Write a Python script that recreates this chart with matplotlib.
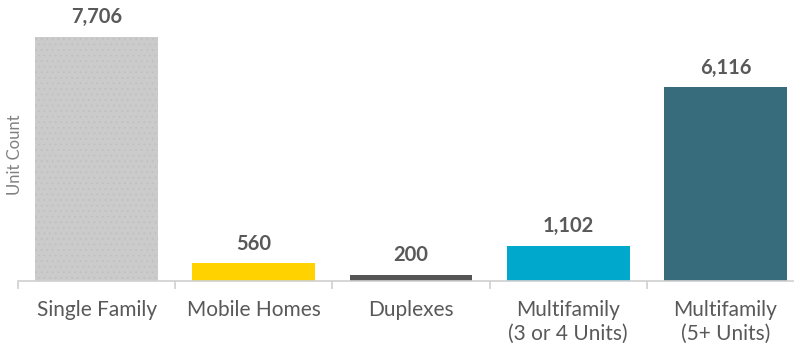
import numpy as np
import matplotlib.pyplot as plt

categories = ["Single Family", "Mobile Homes", "Duplexes",
              "Multifamily\n(3 or 4 Units)", "Multifamily\n(5+ Units)"]
unit_counts = [7706, 560, 200, 1102, 6116]
colors = ["#cbcbcb", "#ffd200", "#555555", "#00a9cc", "#366c7b"]

plt.rcParams['font.family'] = ['Lato', 'DejaVu Sans']
plt.rcParams['hatch.linewidth'] = 0.6

fig = plt.figure(figsize=(7.94, 3.43), dpi=100)
# axes runs slightly past the right edge, like the original layout
ax = fig.add_axes([18 / 794, 62 / 343, 786 / 794, 281 / 343])

x = np.arange(len(categories))
bars = ax.bar(x, unit_counts, width=0.78, color=colors, zorder=2)
# light dotted texture on the first bar
bars[0].set_hatch('...')
bars[0].set_edgecolor('#c0c0c0')
bars[0].set_linewidth(0)

for xi, v in zip(x, unit_counts):
    ax.annotate(f"{v:,}", (xi, v), xytext=(0, 7), textcoords='offset points',
                ha='center', va='bottom', fontsize=14.5, fontweight='bold',
                color='#595959')

ax.set_xlim(-0.5, len(categories) - 0.5)
ax.set_ylim(0, 8875)

ax.set_xticks(x)
ax.set_xticklabels(categories, fontsize=15, color='#595959', linespacing=1.2)
ax.tick_params(axis='x', length=0, pad=14)
ax.set_xticks(np.arange(len(categories) + 1) - 0.5, minor=True)
ax.tick_params(axis='x', which='minor', length=6, color='#d0d0d0', width=1.2)
ax.set_yticks([])

for side in ['top', 'right', 'left']:
    ax.spines[side].set_visible(False)
ax.spines['bottom'].set_color('#d0d0d0')
ax.spines['bottom'].set_linewidth(1.2)

fig.text(15 / 794, 1 - 155 / 343, "Unit Count", rotation=90, ha='center',
         va='center', fontsize=12, color='#808080')

plt.savefig('out.png', dpi=100)
